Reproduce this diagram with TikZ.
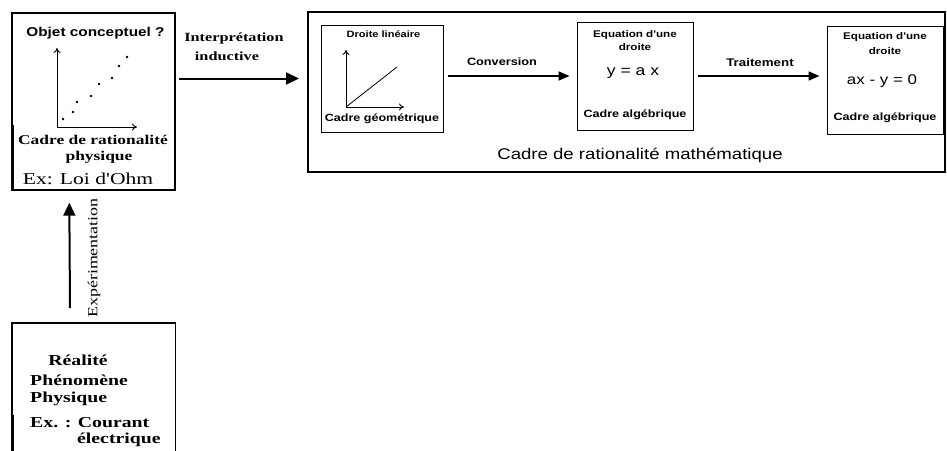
\documentclass[tikz,border=0pt]{standalone}
\usepackage{fontspec}
\newfontfamily\srf[FakeStretch=1.3]{Liberation Serif}
\newfontfamily\ssf[FakeStretch=1.2]{Liberation Sans}
\usetikzlibrary{arrows.meta,calc}
\newcommand\fsz[1]{\fontsize{#1}{#1}\selectfont}
\begin{document}
\begin{tikzpicture}[x=1pt,y=-1pt,
  box/.style={draw,line width=1.4pt,inner sep=0pt},
  bigbox/.style={draw,line width=2pt,inner sep=0pt},
  mbox/.style={draw,line width=0.9pt,inner sep=0pt},
  txt/.style={inner sep=0pt,anchor=center},
  bigarr/.style={line width=2pt,-{Triangle[length=13pt,width=12pt]}},
  midarr/.style={line width=1.4pt,-{Triangle[length=11pt,width=9pt]}},
  axis/.style={line width=0.9pt,-{To[length=5pt,width=7pt]}},
  serb/.style={font=\srf\bfseries\fsz{#1}},
  sanb/.style={font=\ssf\bfseries\fsz{#1}},
  sanr/.style={font=\ssf\fsz{#1}}]
\fill[white] (0,0) rectangle (947,450);
\useasboundingbox (0,0) rectangle (947,450);

% left box
\node[box,minimum width=163pt,minimum height=177pt] (obj) at (93.5,101.5) {};
\draw[line width=2.6pt] (12.5,125) -- (12.5,190);
\node[txt,sanb=12.8] (objt) at (95.5,33) {Objet conceptuel ?};
\draw[axis] (57,127) -- (57,48);
\draw[axis] (57,127) -- (137,127);
\foreach \p in {(63,119),(73,112),(77,102),(91,96),(99,84),(112,78),(119,66),(127,57)}
  \fill \p circle (1.4);
\node[txt,serb=13.4] (crp1) at (93,140) {Cadre de rationalité};
\node[txt,serb=13.4] (crp2) at (99,157) {physique};
\node[txt,font=\srf\fsz{16.6}] (ohm) at (88,179) {Ex: Loi d'Ohm};

% bottom box
\node[minimum width=163pt,minimum height=128pt,inner sep=0pt,anchor=north west] (reel) at (12,323) {};
\draw[line width=1.4pt] (reel.south west) -- (reel.north west) -- (reel.north east) -- (reel.south east);
\draw[line width=2.6pt] (12.5,415) -- (12.5,451);
\node[txt,serb=15.2] (r1) at (78,360) {Réalité};
\node[txt,serb=15.2,anchor=west] (r2) at (30,380) {Phénomène};
\node[txt,serb=15.2,anchor=west] (r3) at (30,399) {Physique};
\node[txt,serb=15.2,anchor=west] (r4) at (30,423) {Ex. : Courant};
\node[txt,serb=15.2,anchor=west] (r5) at (77,440) {électrique};

% experimentation arrow
\draw[bigarr] ($(reel.north west)+(58,-15)$) -- ($(obj.south west)+(58,12)$);
\node[txt,rotate=90,font=\srf\fsz{13.8}] (expl) at (94,258) {Expérimentation};

% math box
\node[bigbox,minimum width=637pt,minimum height=160pt] (main) at (626.5,92) {};
\node[txt,sanr=15.5] (mtitle) at (640,155) {Cadre de rationalité mathématique};

% box 1
\node[mbox,minimum width=122pt,minimum height=107pt] (b1) at (382,78.5) {};
\node[txt,sanb=9.2] (b1t) at (383.5,34) {Droite linéaire};
\draw[axis] (346,107) -- (346,50);
\draw[axis] (346,107) -- (404,107);
\draw[line width=0.8pt] (346,107) -- (397,67);
\node[txt,sanb=10.45] (b1b) at (382,119) {Cadre géométrique};

% box 2
\node[mbox,minimum width=116pt,minimum height=108pt] (b2) at (635,76) {};
\node[txt,sanb=9.7] (b2t1) at (635,35) {Equation d'une};
\node[txt,sanb=9.7] (b2t2) at (635,47) {droite};
\node[txt,sanr=14.6] (b2eq) at (633,73) {y = a x};
\node[txt,sanb=10.5] (b2b) at (635,115) {Cadre algébrique};

% box 3
\node[mbox,minimum width=116pt,minimum height=108pt] (b3) at (885,80) {};
\node[txt,sanb=9.7] (b3t1) at (885,37) {Equation d'une};
\node[txt,sanb=9.7] (b3t2) at (885,51) {droite};
\node[txt,sanr=14.1] (b3eq) at (882,81) {ax - y = 0};
\node[txt,sanb=10.5] (b3b) at (885,118) {Cadre algébrique};

% arrows
\draw[bigarr] ($(obj.east |- b1.west)+(3,0)$) -- ($(main.west |- b1.west)+(-8,0)$);
\node[txt,serb=12.5] (ip1) at (234,38) {Interprétation};
\node[txt,serb=12.5] (ip2) at (227,56) {inductive};

\draw[midarr] ($(b1.east |- b2.west)+(5,0)$) -- ($(b2.west)+(-7,0)$);
\node[txt,sanb=10.6] (conv) at (502,62) {Conversion};

\draw[midarr] ($(b2.east)+(5,0)$) -- ($(b3.west |- b2.east)+(-7,0)$);
\node[txt,sanb=11.1] (trait) at (760,63) {Traitement};
\end{tikzpicture}
\end{document}
